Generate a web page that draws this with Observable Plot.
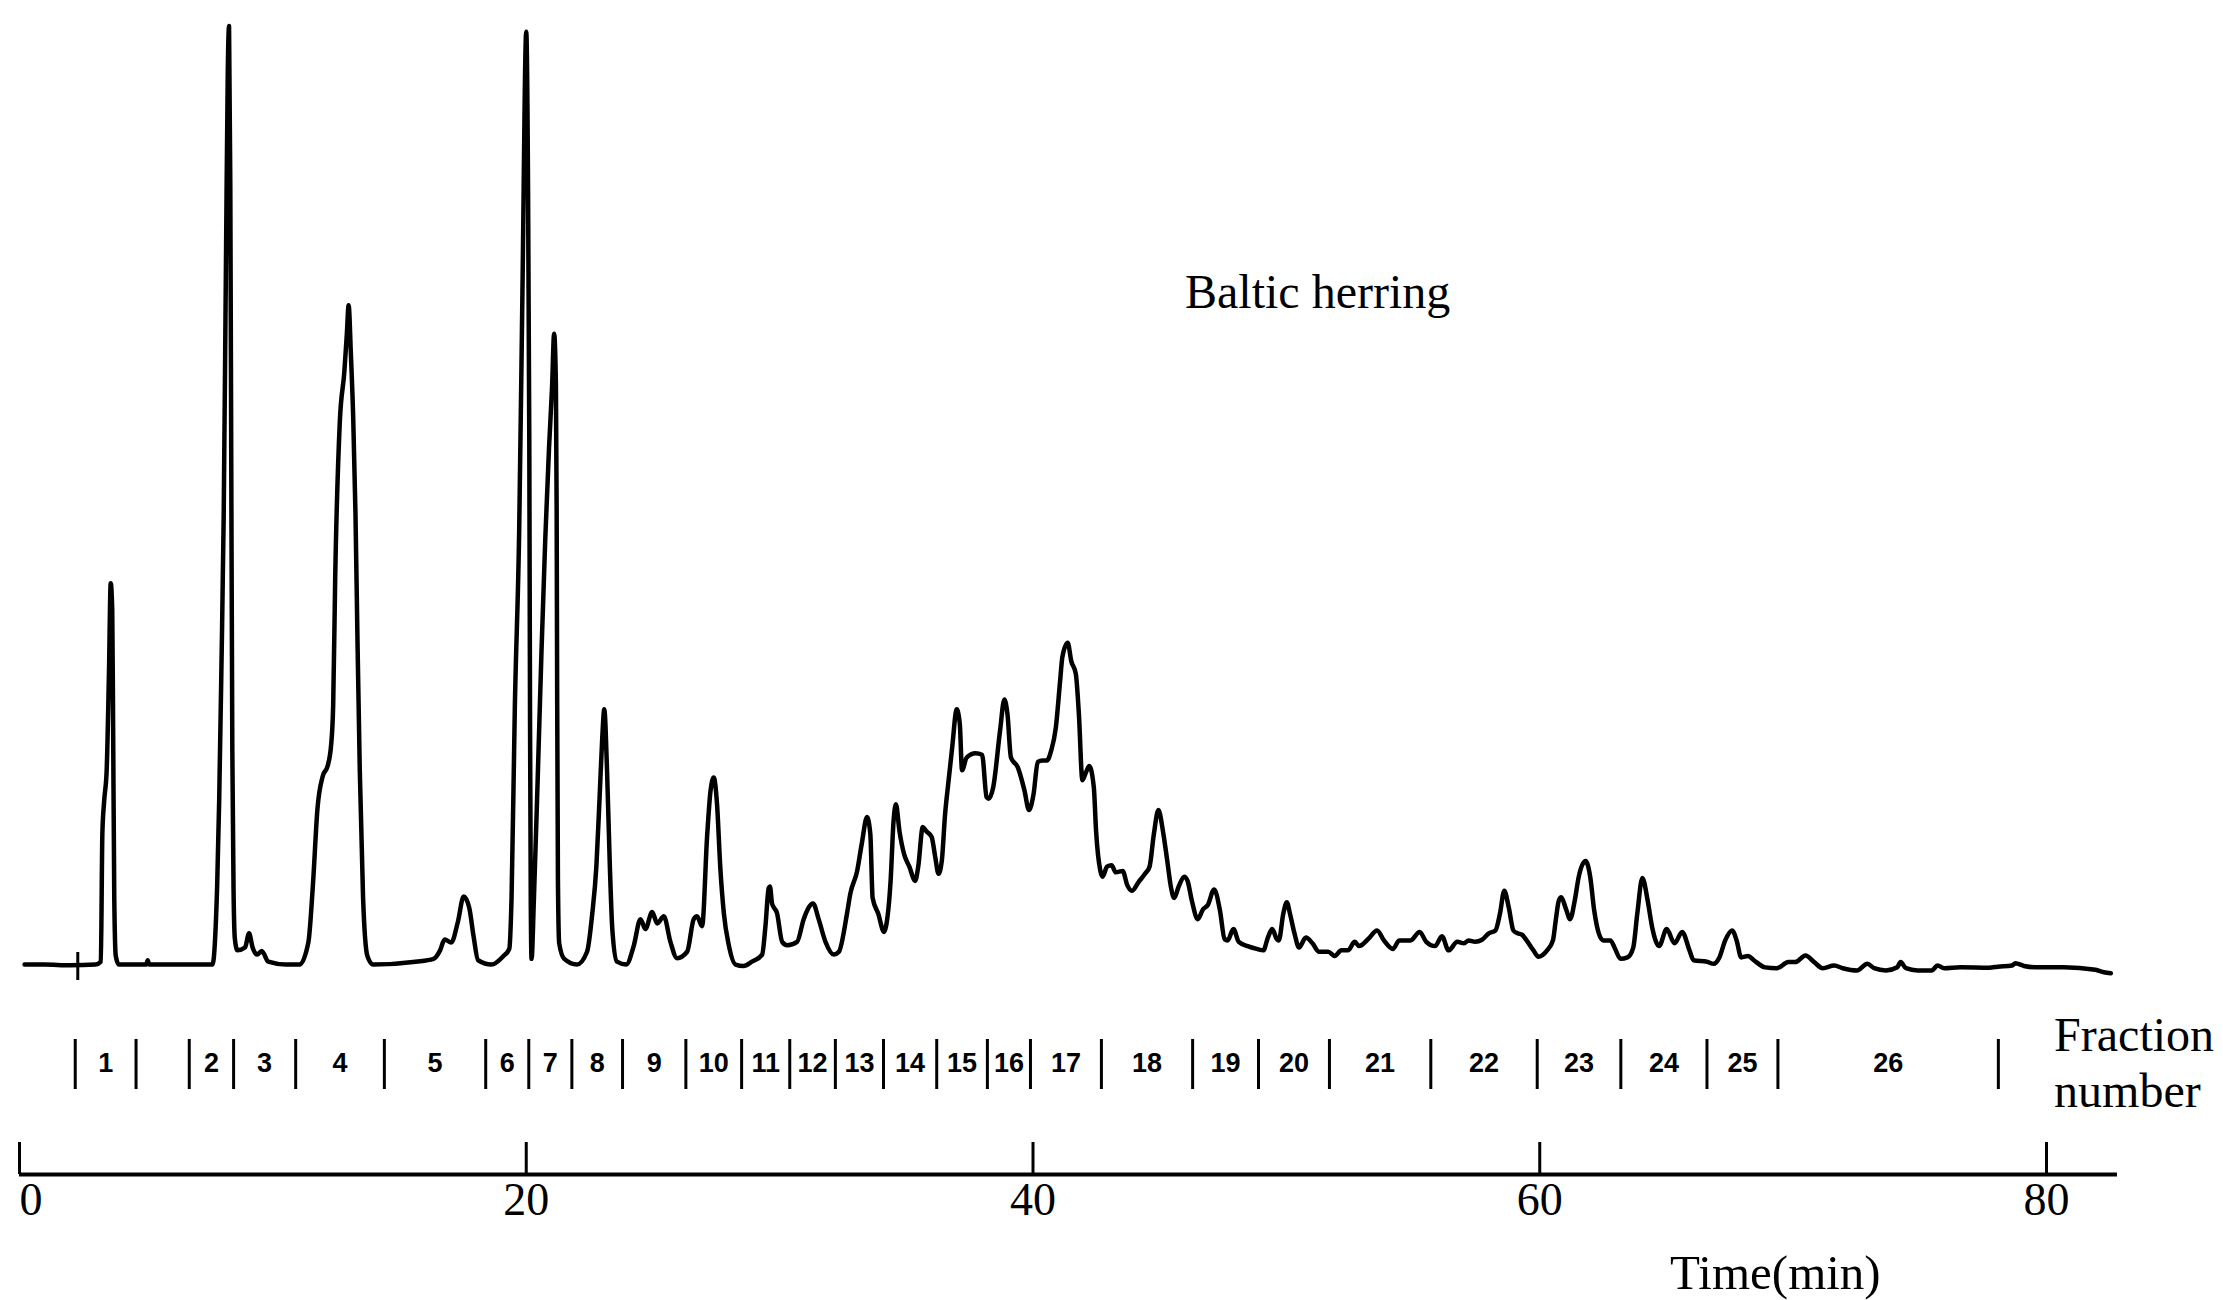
<!DOCTYPE html>
<html>
<head>
<meta charset="utf-8">
<script src="https://cdn.jsdelivr.net/npm/d3@7"></script>
<script src="https://cdn.jsdelivr.net/npm/@observablehq/plot@0.6"></script>
<style>
  html, body { margin: 0; padding: 0; background: #fff; }
  #chart svg { display: block; }
</style>
</head>
<body>
<div id="chart"></div>
<script>
// ---- Data ----
// Retention time (min)
const timeMin = [
  0.2, 1.0, 2.0, 3.0, 3.21, 3.27, 3.34, 3.44, 3.53, 3.60, 3.66, 3.69, 3.74, 3.80, 3.92,
  4.5, 5.0, 5.06, 5.12, 6.5, 7.62,
  7.71, 7.80, 7.88, 7.97, 8.06, 8.15, 8.22, 8.27, 8.32, 8.36, 8.40, 8.45, 8.50, 8.6, 8.9,
  9.06, 9.2, 9.38, 9.56, 9.82, 10.5, 11.05,
  11.4, 11.58, 11.76, 11.97, 12.16, 12.3, 12.38, 12.46, 12.64, 12.82, 12.92, 12.99, 13.08,
  13.17, 13.26, 13.34, 13.43, 13.56, 13.73, 13.96,
  15.63, 16.34, 16.6, 16.78, 17.04, 17.3, 17.53, 17.75, 17.92, 18.1, 18.63, 19.1, 19.33,
  19.42, 19.55, 19.72, 19.85, 20.0, 20.07, 20.12, 20.15, 20.18, 20.21,
  20.3, 20.45, 20.6, 20.75, 20.9, 21.02, 21.1, 21.17, 21.2, 21.22, 21.25, 21.3, 21.5, 22.0, 22.4,
  22.6, 22.77, 22.9, 23.0, 23.08, 23.19, 23.3, 23.4, 23.58, 23.95,
  24.24, 24.51, 24.7, 24.97, 25.17, 25.43, 25.69, 25.95, 26.35, 26.61, 26.74, 26.94,
  27.14, 27.27, 27.4, 27.53, 27.66, 27.8, 27.99, 28.26, 28.58, 28.91, 29.31,
  29.44, 29.57, 29.62, 29.7, 29.9, 30.1, 30.3, 30.69, 30.95, 31.32, 31.54, 31.81, 32.14, 32.34,
  32.66, 32.79, 33.06, 33.24, 33.45, 33.58, 33.67, 33.89, 34.12, 34.2, 34.38, 34.5, 34.59,
  34.73, 34.91, 35.12, 35.35, 35.47, 35.65, 35.79, 36.0, 36.14, 36.27, 36.4, 36.53, 36.67,
  36.81, 36.99, 37.11, 37.2, 37.38, 37.73, 37.99, 38.17, 38.25, 38.43, 38.7, 38.87, 38.99,
  39.13, 39.4, 39.66, 39.84, 40.02, 40.19, 40.37, 40.55, 40.72, 40.9, 41.07, 41.16, 41.37,
  41.51, 41.69, 41.81, 41.95, 42.1, 42.22, 42.4, 42.49, 42.66, 42.75, 42.92, 43.1, 43.27,
  43.54, 43.72, 43.9, 44.16, 44.42, 44.6, 44.77, 44.95, 45.13, 45.3, 45.44, 45.57, 45.75,
  45.97, 46.1, 46.27, 46.5, 46.71, 46.9, 47.15, 47.38, 47.56, 47.68, 47.91, 48.12, 48.47,
  48.83, 49.09, 49.27, 49.44, 49.62, 49.7, 49.88, 50.02, 50.14, 50.32, 50.5, 50.77, 51.03,
  51.29, 51.65, 51.91, 52.17, 52.43, 52.7, 52.87, 53.23, 53.58, 53.85, 54.2, 54.46, 54.9,
  55.26, 55.52, 55.87, 56.14, 56.4, 56.75, 57.01, 57.19, 57.45, 57.72, 57.99, 58.25, 58.43,
  58.6, 58.78, 58.96, 59.13, 59.3, 59.48, 59.75, 59.95, 60.29, 60.52, 60.63, 60.75, 60.85,
  61.02, 61.2, 61.38, 61.54, 61.81, 61.99, 62.15, 62.33, 62.51, 62.79, 62.95, 63.19, 63.46,
  63.69, 63.85, 64.05, 64.26, 64.44, 64.71, 65.01, 65.32, 65.62, 65.91, 66.07, 66.6, 66.86,
  67.09, 67.32, 67.59, 67.77, 67.95, 68.22, 68.45, 68.9, 69.36, 69.81, 70.08, 70.49, 70.83,
  71.17, 71.62, 71.96, 72.52, 72.93, 73.2, 73.66, 74.11, 74.24, 74.45, 74.91, 75.47, 75.7,
  75.96, 76.6, 77.74, 78.08, 78.64, 78.77, 79.11, 79.55, 80.68, 81.93, 82.27, 82.54
];
// Detector signal (arbitrary units)
const signal = [
  10, 10, 9.5, 10, 12, 102, 125, 147, 215, 279, 260, 193, 57, 16, 10,
  10, 10, 13, 10, 10, 10,
  25, 65, 125, 220, 328, 509, 640, 672, 560, 350, 160, 60, 28, 20, 22,
  32, 22, 17, 19.6, 12, 10, 10,
  25.5, 66, 120, 143, 150, 165, 193, 283, 392, 428, 455, 475, 440,
  396, 328, 238, 147, 57, 16, 10,
  12, 14, 20, 27.7, 25.5, 40, 58, 50, 30, 13, 10, 16, 21,
  57, 192, 315, 485, 668, 560, 380, 180, 50, 14,
  55, 140, 230, 310, 375, 418, 455, 420, 330, 200, 70, 25, 14, 10, 19,
  45, 80, 130, 170, 190, 146, 79, 34, 12, 10,
  23, 42, 35, 47, 39, 44, 26, 14.5, 19, 42, 44, 37,
  101, 132, 142, 123, 78, 46, 24, 10, 9, 12, 17,
  37, 64, 65, 53, 46, 26, 23.6, 26, 42, 53, 42, 26, 17, 19,
  46, 60, 76, 95, 114, 102, 57, 46, 33, 37, 69, 112, 123,
  104, 88, 79, 69, 79, 107, 104, 100, 86, 74, 83, 116, 140,
  163, 190, 180, 147, 156, 159, 158, 128, 127, 135, 175, 197, 187,
  156, 149, 133, 119, 130, 153, 154, 154, 161, 177, 210, 227, 237,
  224, 215, 187, 140, 146, 150, 135, 104, 76, 72, 79, 80, 75,
  76, 66, 62, 68, 74, 79, 102, 119, 104, 83, 65, 57, 65,
  72, 69, 55, 42, 49, 52, 63, 48, 28, 27, 35, 26, 23,
  21, 20, 29, 35, 28, 27, 46, 54, 46, 32, 22, 29, 25,
  19, 19, 16, 20, 20, 26, 23, 28, 34, 27, 21, 27, 27,
  33, 26, 23, 30, 20, 26, 25, 27, 26, 27.5, 32, 34, 46,
  62, 50, 34, 32, 31, 27, 20, 15.5, 20, 27, 41, 55, 57.5,
  50, 42, 55, 72, 83, 72, 48, 32, 27, 27, 22, 14, 15,
  22, 46, 71, 55, 36, 23, 35, 25, 33, 20, 13, 12, 10.5,
  15, 27, 34, 27, 15, 16, 13, 8, 7.4, 11.7, 11.7, 16.4, 11.7,
  7.4, 9.3, 7.4, 5.8, 10.5, 7.4, 5.8, 8.1, 11.7, 7.4, 5.8, 5.8, 9.3,
  7.4, 8.1, 7.8, 8.5, 9.3, 10.9, 9, 8.1, 8.1, 6.3, 4.6, 3.9
];
// Injection marker on the baseline (min)
const injectionTime = [2.3];
// Fraction collection boundaries (min)
const fractionBounds = [2.2, 4.6, 6.7, 8.45, 10.9, 14.4, 18.4, 20.1, 21.8, 23.8, 26.3, 28.5,
  30.4, 32.2, 34.1, 36.2, 38.2, 39.9, 42.7, 46.3, 48.9, 51.7, 55.7, 59.9, 63.2, 66.6, 69.4, 78.1];
const fractionNumbers = ["1","2","3","4","5","6","7","8","9","10","11","12","13","14","15",
  "16","17","18","19","20","21","22","23","24","25","26"];
const timeTicks = [0, 20, 40, 60, 80];
const sampleName = "Baltic herring";
const fractionTitle = "Fraction\nnumber";
const timeTitle = "Time(min)";

// ---- Build tables ----
const chrom = timeMin.map((t, i) => ({t, v: signal[i]}));
const fractions = fractionNumbers.map((label, i) => {
  const k = i === 0 ? 0 : i + 1;
  return {label, mid: (fractionBounds[k] + fractionBounds[k + 1]) / 2};
});

const serif = "'Liberation Serif','Times New Roman',Times,serif";
const sans = "'Liberation Sans',Arial,Helvetica,sans-serif";
const H = 1300;
const axisY = 1174;

const chart = Plot.plot({
  width: 2223,
  height: H,
  margin: 0,
  x: {domain: [0, 80], range: [19, 2046], axis: null},
  y: {domain: [0, 690], range: [978.2, 0], axis: null},
  style: {background: "#fff", overflow: "visible"},
  marks: [
    Plot.line(chrom, {x: "t", y: "v", stroke: "#000", strokeWidth: 4.5, curve: "monotone-x", strokeLinejoin: "round"}),
    Plot.ruleX(injectionTime, {stroke: "#000", strokeWidth: 3, insetTop: 952, insetBottom: H - 980}),
    Plot.text([sampleName], {x: 46.0, y: 484, text: d => d, textAnchor: "start", lineAnchor: "middle", fontSize: 48, fontFamily: serif, fill: "#000"}),
    // fraction row
    Plot.ruleX(fractionBounds, {stroke: "#000", strokeWidth: 3, insetTop: 1039, insetBottom: H - 1089}),
    Plot.text(fractions, {x: "mid", text: "label", frameAnchor: "top", lineAnchor: "middle", dy: 1063, fontSize: 27, fontWeight: "bold", fontFamily: sans, fill: "#000"}),
    Plot.text([fractionTitle], {x: 80.3, text: d => d, frameAnchor: "top", dy: 1010, lineAnchor: "top", lineHeight: 1.18, textAnchor: "start", fontSize: 48, fontFamily: serif, fill: "#000"}),
    // time axis
    Plot.ruleY([0], {x1: 0, x2: 82.8, dy: axisY - 978.2, stroke: "#000", strokeWidth: 4}),
    Plot.ruleX(timeTicks, {stroke: "#000", strokeWidth: 3, insetTop: 1142, insetBottom: H - axisY}),
    Plot.text(timeTicks.filter(d => d === 0), {x: d => d, text: d => String(d), frameAnchor: "top", lineAnchor: "middle", dy: 1200, textAnchor: "start", fontSize: 46, fontFamily: serif, fill: "#000"}),
    Plot.text(timeTicks.filter(d => d > 0), {x: d => d, text: d => String(d), frameAnchor: "top", lineAnchor: "middle", dy: 1200, textAnchor: "middle", fontSize: 46, fontFamily: serif, fill: "#000"}),
    Plot.text([timeTitle], {x: 69.3, text: d => d, frameAnchor: "top", lineAnchor: "middle", dy: 1273, fontSize: 49, fontFamily: serif, fill: "#000"})
  ]
});
document.getElementById("chart").appendChild(chart);
</script>
</body>
</html>
